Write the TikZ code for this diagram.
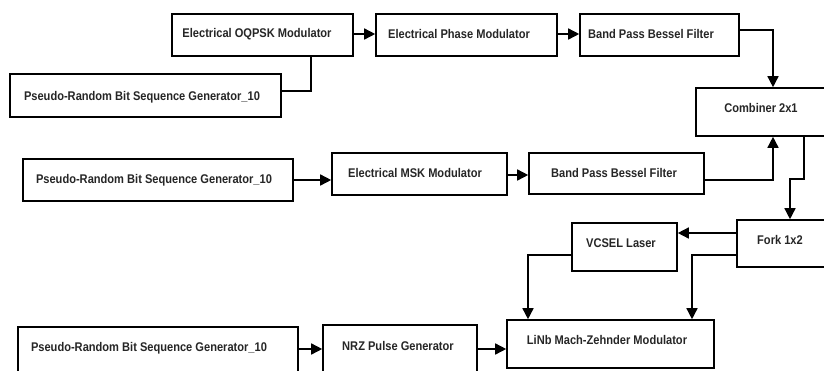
\documentclass[tikz,border=0pt]{standalone}
\usepackage{fontspec}
\newfontfamily\lbf{Liberation Sans}[FakeStretch=0.88]
\usetikzlibrary{arrows.meta,calc}
\tikzset{
  blk/.style={draw=black, line width=1.6pt, fill=white, rectangle, inner sep=0pt},
  lbl/.style={inner sep=0pt, font=\lbf\bfseries\fontsize{12.6}{15}\selectfont, text=black!85},
  arr/.style={line width=1.5pt, -{Triangle[length=11pt,width=11pt]}},
  ln/.style={line width=1.5pt}
}
\begin{document}
\begin{tikzpicture}[x=1pt,y=-1pt]
\clip (0,0) rectangle (824,370);
\fill[white] (0,0) rectangle (824,370);
% boxes
\node[blk, minimum width=181pt, minimum height=42pt] (oqpsk) at (262.5,35) {};
\node[blk, minimum width=271pt, minimum height=43pt] (prbsA) at (145.5,95.5) {};
\node[blk, minimum width=181pt, minimum height=42pt] (phase) at (466.5,35) {};
\node[blk, minimum width=159pt, minimum height=42pt] (bpfA) at (659.5,35) {};
\node[blk, minimum width=164pt, minimum height=48pt] (comb) at (778,112) {};
\node[blk, minimum width=270pt, minimum height=42pt] (prbsB) at (158,180) {};
\node[blk, minimum width=175pt, minimum height=42pt] (msk) at (419.5,174) {};
\node[blk, minimum width=175pt, minimum height=41pt] (bpfB) at (616.5,173.5) {};
\node[blk, minimum width=123pt, minimum height=47pt] (fork) at (798.5,243.5) {};
\node[blk, minimum width=105pt, minimum height=48pt] (vcsel) at (624.5,247) {};
\node[blk, minimum width=207pt, minimum height=48pt] (mzm) at (610.5,344) {};
\node[blk, minimum width=280pt, minimum height=63pt] (prbsC) at (158,358.5) {};
\node[blk, minimum width=154pt, minimum height=65pt] (nrz) at (400,357.5) {};
% labels
\node[lbl] (toqpsk) at (257,34) {Electrical OQPSK Modulator};
\node[lbl] (tprbsA) at (142,97) {Pseudo-Random Bit Sequence Generator\_10};
\node[lbl] (tphase) at (459,34) {Electrical Phase Modulator};
\node[lbl] (tbpfA) at (651,34) {Band Pass Bessel Filter};
\node[lbl] (tcomb) at (761,108) {Combiner 2x1};
\node[lbl] (tprbsB) at (154,180) {Pseudo-Random Bit Sequence Generator\_10};
\node[lbl] (tmsk) at (415,173) {Electrical MSK Modulator};
\node[lbl] (tbpfB) at (614,173) {Band Pass Bessel Filter};
\node[lbl] (tfork) at (780,240) {Fork 1x2};
\node[lbl] (tvcsel) at (621,243) {VCSEL Laser};
\node[lbl] (tmzm) at (607,340) {LiNb Mach-Zehnder Modulator};
\node[lbl] (tprbsC) at (149,348) {Pseudo-Random Bit Sequence Generator\_10};
\node[lbl] (tnrz) at (398,346) {NRZ Pulse Generator};
% connectors
\draw[ln] ([yshift=4.5pt]prbsA.east) -| ([xshift=48.5pt]oqpsk.south);
\draw[arr] ([yshift=1pt]oqpsk.east) -- ([yshift=1pt]phase.west);
\draw[arr] ([yshift=1pt]phase.east) -- ([yshift=1pt]bpfA.west);
\draw[arr] ([yshift=5pt]bpfA.east) -| ([xshift=-5pt]comb.north);
\draw[arr] (prbsB.east) -- (prbsB.east -| msk.west);
\draw[arr] ([yshift=-1pt]msk.east) -- ([yshift=-1pt]msk.east -| bpfB.west);
\draw[arr] ([yshift=-6.5pt]bpfB.east) -| ([xshift=-5pt]comb.south);
\draw[arr] ([xshift=26pt]comb.south) -- ++(0,42) -| ([xshift=-8.5pt]fork.north);
\draw[arr] ([yshift=10.5pt]fork.west) -- ([yshift=10.5pt]fork.west -| vcsel.east);
\draw[arr] ([yshift=-11.5pt]fork.west) -| ([xshift=81.5pt]mzm.north);
\draw[arr] ([yshift=-8pt]vcsel.west) -| ([xshift=-82.5pt]mzm.north);
\draw[arr] ([yshift=9.5pt]prbsC.east) -- ([yshift=9.5pt]prbsC.east -| nrz.west);
\draw[arr] ([yshift=8.5pt]nrz.east) -- ([yshift=8.5pt]nrz.east -| mzm.west);
\end{tikzpicture}
\end{document}
